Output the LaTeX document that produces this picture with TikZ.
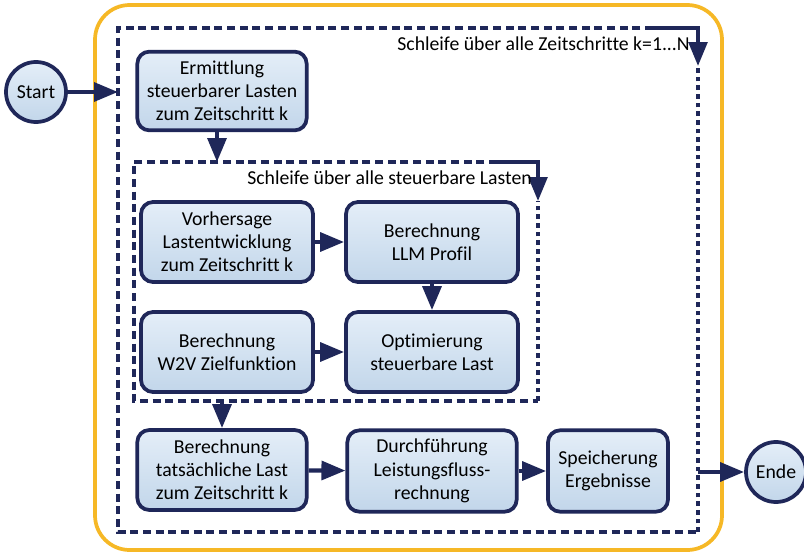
\documentclass[tikz,border=0pt]{standalone}
\usepackage{fontspec}
\setmainfont{Carlito}[Ligatures=NoCommon]
\usetikzlibrary{arrows.meta}
\definecolor{navy}{HTML}{1F2759}
\definecolor{boxtop}{HTML}{E4EEF8}
\definecolor{boxbot}{HTML}{C2D6EA}
\definecolor{frameor}{HTML}{F6B826}
\begin{document}
\begin{tikzpicture}[x=0.75pt,y=-0.75pt,
  every node/.style={font=\fontsize{14.8pt}{17.4pt}\selectfont},
  procbox/.style={draw=navy, line width=2.8pt, rounded corners=9pt, top color=boxtop, bottom color=boxbot, align=center, inner sep=0pt, minimum height=59pt},
  termnode/.style={circle, draw=navy, line width=2.8pt, top color=boxtop, bottom color=boxbot, inner sep=0pt, minimum size=45pt},
  flow/.style={draw=navy, line width=3.2pt, -{Triangle[length=18pt,width=14pt]}},
  loopdash/.style={draw=navy, line width=2.3pt, dash pattern=on 6pt off 3.5pt},
  loopdot/.style={draw=navy, line width=2.3pt, dash pattern=on 3.5pt off 3pt},
  loopsolid/.style={draw=navy, line width=2.8pt, -{Triangle[length=18pt,width=14pt]}},
  looplabel/.style={anchor=east, inner sep=0pt}
]
\useasboundingbox (0,0) rectangle (804,553);
% orange frame
\draw[frameor, line width=2.8pt, rounded corners=26pt] (95,5) rectangle (722,550);

% outer loop corners
\coordinate (oTL) at (118,28);
\coordinate (oTS) at (653,28);
\coordinate (oTR) at (698,28);
\coordinate (oAR) at (698,66);
\coordinate (oBR) at (698,532);
\coordinate (oBL) at (118,532);
\coordinate (oIn) at (118,92);
\coordinate (oOut) at (698,472);
\draw[loopdash] (oTS) -- (oTL) -- (oBL) -- (oBR);
\draw[loopdot] (oBR) -- (oAR);
\draw[loopsolid] (oTS) -- (oTR) -- (oAR);
\node[looplabel] (lblouter) at (690,44) {Schleife über alle Zeitschritte k=1...N};

% inner loop corners
\coordinate (iTL) at (134,162);
\coordinate (iTS) at (497,162);
\coordinate (iTR) at (538,162);
\coordinate (iAR) at (538,201);
\coordinate (iBR) at (538,401);
\coordinate (iBL) at (134,401);
\coordinate (iIn) at (217,162);
\coordinate (iOut) at (222,401);
\draw[loopdash] (iTS) -- (iTL) -- (iBL) -- (iBR);
\draw[loopdot] (iBR) -- (iAR);
\draw[loopsolid] (iTS) -- (iTR) -- (iAR);
\node[looplabel] (lblinner) at (532,178) {Schleife über alle steuerbare Lasten};

% terminals
\node[termnode] (start) at (36,92) {Start};
\node[termnode] (ende) at (776,472) {Ende};

% boxes
\node[procbox, minimum width=127pt] (ermitt) at (222,91) {Ermittlung\\steuerbarer Lasten\\zum Zeitschritt k};
\node[procbox, minimum width=129pt, minimum height=60pt] (vorh) at (227,242) {Vorhersage\\Lastentwicklung\\zum Zeitschritt k};
\node[procbox, minimum width=129pt, minimum height=60pt] (llm) at (432,242) {Berechnung\\LLM Profil};
\node[procbox, minimum width=129pt, minimum height=60pt] (w2v) at (227,352) {Berechnung\\W2V Zielfunktion};
\node[procbox, minimum width=129pt, minimum height=60pt] (opt) at (432,352) {Optimierung\\steuerbare Last};
\node[procbox, minimum width=127pt, minimum height=60pt] (tats) at (222,470) {Berechnung\\tatsächliche Last\\zum Zeitschritt k};
\node[procbox, minimum width=127pt, minimum height=61pt] (durch) at (432,471) {Durchführung\\Leistungsfluss-\\rechnung};
\node[procbox, minimum width=90pt, minimum height=61pt] (speich) at (608,471) {Speicherung\\Ergebnisse};

% connectors
\draw[flow] (start) -- (oIn);
\draw[flow] (ermitt.south -| iIn) -- (iIn);
\draw[flow] (vorh) -- (llm);
\draw[flow] (llm) -- (opt);
\draw[flow] (w2v) -- (opt);
\draw[flow] (iOut) -- (tats.north -| iOut);
\draw[flow] (tats) -- (durch);
\draw[flow] (durch) -- (speich);
\draw[flow] (oOut) -- (ende);
\end{tikzpicture}
\end{document}
